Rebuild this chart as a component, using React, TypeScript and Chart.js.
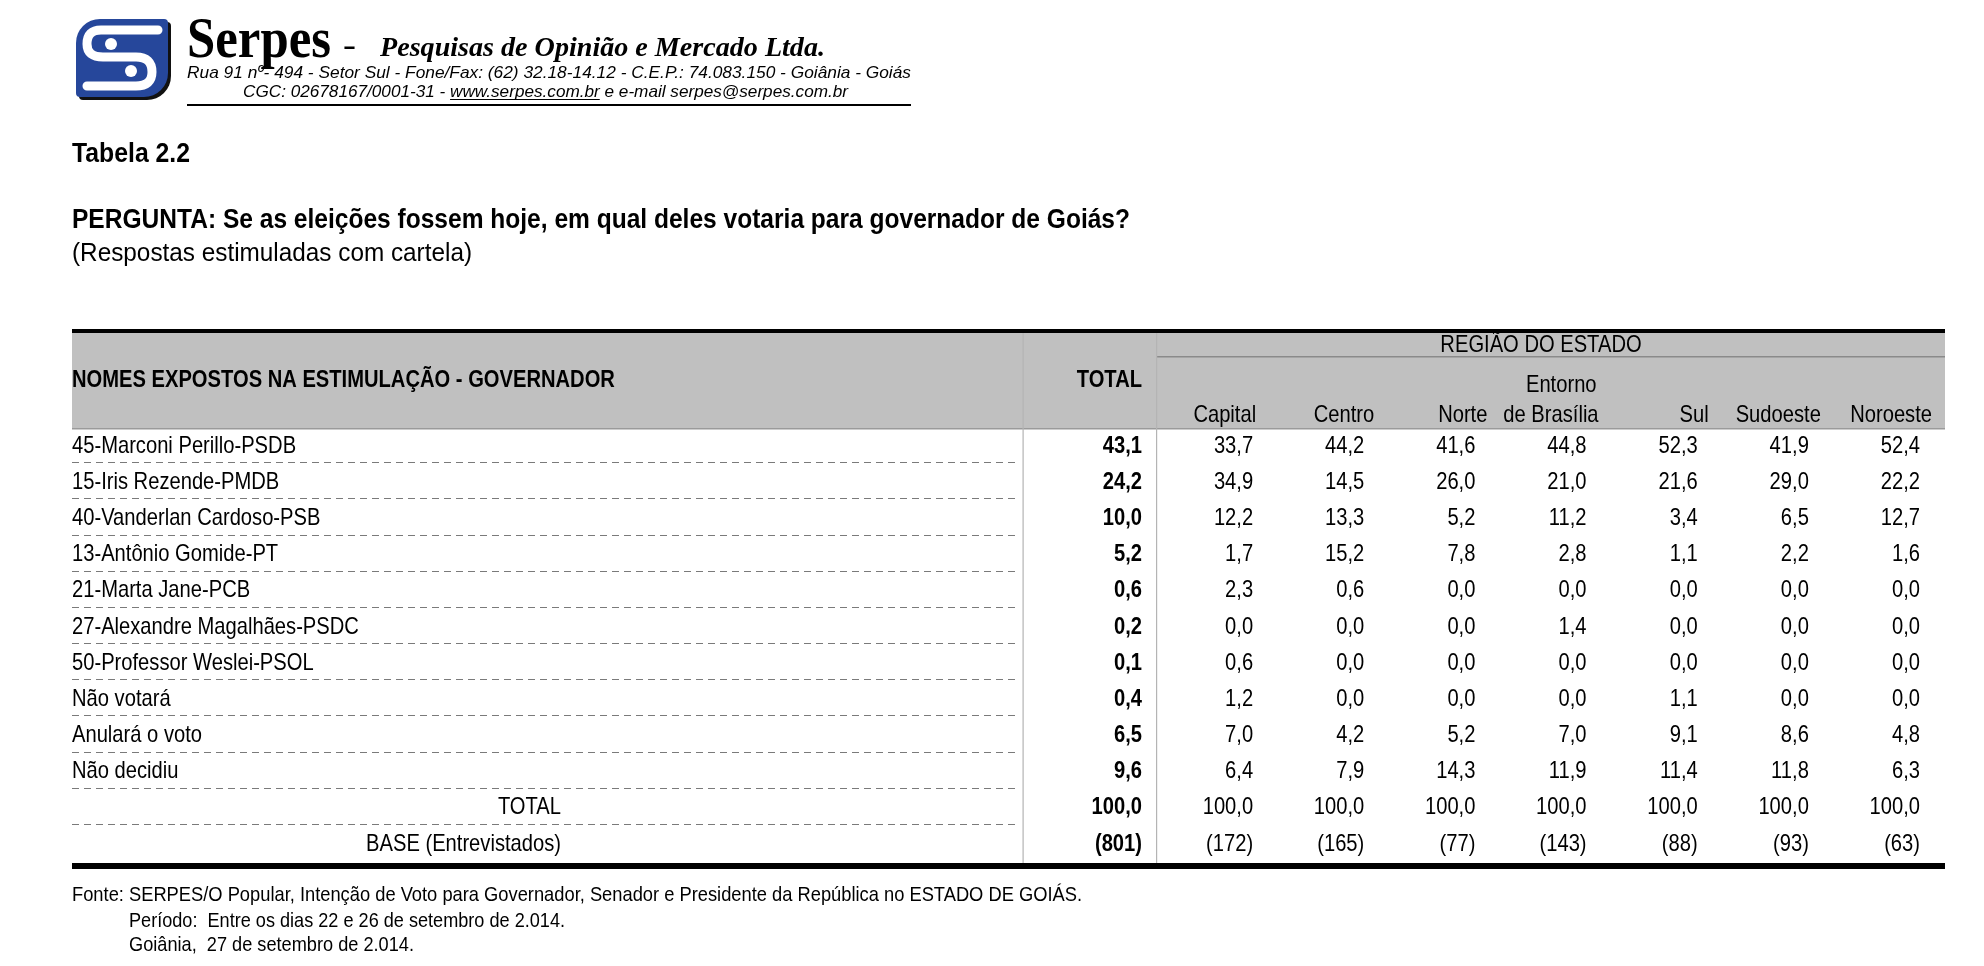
import React, { useEffect, useRef } from 'react';
import { Chart, registerables } from 'chart.js';

Chart.register(...registerables);

// ---------- DATA ----------
const RESPONSES = [
  '45-Marconi Perillo-PSDB',
  '15-Iris Rezende-PMDB',
  '40-Vanderlan Cardoso-PSB',
  '13-Antônio Gomide-PT',
  '21-Marta Jane-PCB',
  '27-Alexandre Magalhães-PSDC',
  '50-Professor Weslei-PSOL',
  'Não votará',
  'Anulará o voto',
  'Não decidiu',
];
const SUMMARY_ROWS = ['TOTAL', 'BASE (Entrevistados)'];
const ROW_LABELS = [...RESPONSES, ...SUMMARY_ROWS];

const COLUMNS = ['TOTAL', 'Capital', 'Centro', 'Norte', 'Entorno de Brasília', 'Sul', 'Sudoeste', 'Noroeste'];
const COLUMN_HEADER_LINES = [['TOTAL'], ['Capital'], ['Centro'], ['Norte'], ['Entorno', 'de Brasília'], ['Sul'], ['Sudoeste'], ['Noroeste']];

const TOTAL_COL = [43.1, 24.2, 10.0, 5.2, 0.6, 0.2, 0.1, 0.4, 6.5, 9.6];
const CAPITAL = [33.7, 34.9, 12.2, 1.7, 2.3, 0.0, 0.6, 1.2, 7.0, 6.4];
const CENTRO = [44.2, 14.5, 13.3, 15.2, 0.6, 0.0, 0.0, 0.0, 4.2, 7.9];
const NORTE = [41.6, 26.0, 5.2, 7.8, 0.0, 0.0, 0.0, 0.0, 5.2, 14.3];
const ENTORNO = [44.8, 21.0, 11.2, 2.8, 0.0, 1.4, 0.0, 0.0, 7.0, 11.9];
const SUL = [52.3, 21.6, 3.4, 1.1, 0.0, 0.0, 0.0, 1.1, 9.1, 11.4];
const SUDOESTE = [41.9, 29.0, 6.5, 2.2, 0.0, 0.0, 0.0, 0.0, 8.6, 11.8];
const NOROESTE = [52.4, 22.2, 12.7, 1.6, 0.0, 0.0, 0.0, 0.0, 4.8, 6.3];
const SERIES = [TOTAL_COL, CAPITAL, CENTRO, NORTE, ENTORNO, SUL, SUDOESTE, NOROESTE];

const COLUMN_TOTALS = [100.0, 100.0, 100.0, 100.0, 100.0, 100.0, 100.0, 100.0];
const BASE_COUNTS = [801, 172, 165, 77, 143, 88, 93, 63];

const TITLE_TABLE = 'Tabela 2.2';
const TITLE_QUESTION = 'PERGUNTA: Se as eleições fossem hoje, em qual deles votaria para governador de Goiás?';
const TITLE_NOTE = '(Respostas estimuladas com cartela)';
const HEAD_NAMES = 'NOMES EXPOSTOS NA ESTIMULAÇÃO - GOVERNADOR';
const HEAD_REGION = 'REGIÃO DO ESTADO';
const FOOTER = [
  'Fonte: SERPES/O Popular, Intenção de Voto para Governador, Senador e Presidente da República no ESTADO DE GOIÁS.',
  'Período:  Entre os dias 22 e 26 de setembro de 2.014.',
  'Goiânia,  27 de setembro de 2.014.',
];
const COMPANY = 'Serpes';
const COMPANY_SUB = 'Pesquisas de Opinião e Mercado Ltda.';
const ADDRESS = 'Rua 91 nº- 494 - Setor Sul - Fone/Fax: (62) 32.18-14.12 - C.E.P.: 74.083.150 - Goiânia - Goiás';
const CGC_A = 'CGC: 02678167/0001-31 - ';
const CGC_URL = 'www.serpes.com.br';
const CGC_B = ' e e-mail serpes@serpes.com.br';

// ---------- LAYOUT / STYLE ----------
const W = 1984;
const H = 966;
const SANS = '"Liberation Sans", Arial, Helvetica, sans-serif';
const SERIF = '"Liberation Serif", "Times New Roman", serif';
const BODY_SIZE = 24;
const NARROW = 0.84;
const TABLE_L = 72;
const TABLE_R = 1945;
const HEADER_SHIFT = [0, 3, 10, 12, 12, 11, 12, 12];

type TOpts = {
  size: number;
  weight?: string;
  style?: string;
  family?: string;
  align?: CanvasTextAlign;
  sx?: number;
  width?: number;
  color?: string;
};

function txt(ctx: CanvasRenderingContext2D, s: string, x: number, y: number, o: TOpts) {
  const { size, weight = 'normal', style = 'normal', family = SANS, align = 'left', sx = NARROW, width, color = '#000' } = o;
  ctx.save();
  ctx.font = `${style} ${weight} ${size}px ${family}`;
  ctx.textBaseline = 'alphabetic';
  ctx.fillStyle = color;
  let k = sx;
  if (width) k = width / ctx.measureText(s).width;
  ctx.translate(x, y);
  ctx.scale(k, 1);
  ctx.textAlign = align;
  ctx.fillText(s, 0, 0);
  ctx.restore();
  return k;
}

function fmt(v: number) {
  return v.toFixed(1).replace('.', ',');
}

function drawLogo(ctx: CanvasRenderingContext2D) {
  ctx.save();
  ctx.fillStyle = '#111';
  ctx.beginPath();
  (ctx as any).roundRect(79, 22, 92, 78, [24, 4, 24, 4]);
  ctx.fill();
  ctx.fillStyle = '#26479b';
  ctx.beginPath();
  (ctx as any).roundRect(76, 19, 92, 78, [24, 4, 24, 4]);
  ctx.fill();
  ctx.strokeStyle = '#fff';
  ctx.lineWidth = 9;
  ctx.lineCap = 'round';
  ctx.lineJoin = 'round';
  ctx.beginPath();
  ctx.moveTo(158, 30);
  ctx.lineTo(101, 30);
  ctx.quadraticCurveTo(87, 30, 87, 44);
  ctx.quadraticCurveTo(87, 57, 103, 57);
  ctx.lineTo(136, 57);
  ctx.quadraticCurveTo(152, 57, 152, 72);
  ctx.quadraticCurveTo(152, 86, 136, 86);
  ctx.lineTo(87, 86);
  ctx.stroke();
  ctx.fillStyle = '#fff';
  ctx.beginPath();
  ctx.arc(111, 44, 6, 0, Math.PI * 2);
  ctx.fill();
  ctx.beginPath();
  ctx.arc(131, 71, 6, 0, Math.PI * 2);
  ctx.fill();
  ctx.restore();
}

const tablePlugin = {
  id: 'tablePlugin',
  beforeDraw(chart: any) {
    const ctx: CanvasRenderingContext2D = chart.ctx;
    ctx.save();
    ctx.fillStyle = '#fff';
    ctx.fillRect(0, 0, W, H);
    ctx.fillStyle = '#c0c0c0';
    ctx.fillRect(TABLE_L, 333, TABLE_R - TABLE_L, 96);
    ctx.restore();
  },
  afterDatasetsDraw(chart: any) {
    const ctx: CanvasRenderingContext2D = chart.ctx;
    const xs = chart.scales.x;
    const ys = chart.scales.y;
    const band = ys.getPixelForValue(1) - ys.getPixelForValue(0);
    const capOff = BODY_SIZE * 0.716 / 2;

    // ----- letterhead -----
    drawLogo(ctx);
    txt(ctx, COMPANY, 187, 57, { size: 58, weight: 'bold', family: SERIF, width: 144 });
    txt(ctx, '-', 343, 55, { size: 30, weight: 'bold', family: SERIF, sx: 1.3 });
    txt(ctx, COMPANY_SUB, 380, 56, { size: 28, weight: 'bold', style: 'italic', family: SERIF, width: 445 });
    txt(ctx, ADDRESS, 187, 78, { size: 17, style: 'italic', width: 724 });
    const k = txt(ctx, CGC_A + CGC_URL + CGC_B, 243, 97, { size: 17, style: 'italic', width: 605 });
    ctx.save();
    ctx.font = `italic normal 17px ${SANS}`;
    const ua = ctx.measureText(CGC_A).width * k;
    const ub = ctx.measureText(CGC_URL).width * k;
    ctx.strokeStyle = '#000';
    ctx.lineWidth = 1;
    ctx.beginPath();
    ctx.moveTo(243 + ua, 99.5);
    ctx.lineTo(243 + ua + ub, 99.5);
    ctx.stroke();
    ctx.lineWidth = 2;
    ctx.beginPath();
    ctx.moveTo(187, 105);
    ctx.lineTo(911, 105);
    ctx.stroke();
    ctx.restore();

    // ----- titles -----
    txt(ctx, TITLE_TABLE, 72, 162, { size: 28, weight: 'bold', width: 118 });
    txt(ctx, TITLE_QUESTION, 72, 228, { size: 27, weight: 'bold', width: 1058 });
    txt(ctx, TITLE_NOTE, 72, 261, { size: 26, width: 400 });

    // ----- table rules -----
    ctx.save();
    ctx.fillStyle = '#000';
    ctx.fillRect(TABLE_L, 329, TABLE_R - TABLE_L, 4);
    ctx.fillRect(TABLE_L, 863, TABLE_R - TABLE_L, 6);
    ctx.fillStyle = '#9a9a9a';
    ctx.fillRect(TABLE_L, 428, TABLE_R - TABLE_L, 1.5);
    ctx.fillStyle = '#8a8a8a';
    ctx.fillRect(1156, 356, TABLE_R - 1156, 1.5);
    ctx.fillStyle = '#b4b4b4';
    ctx.fillRect(1022.5, 333, 1.2, 530);
    ctx.fillRect(1156, 333, 1.2, 530);
    ctx.strokeStyle = '#7a7a7a';
    ctx.lineWidth = 1;
    ctx.setLineDash([7, 5]);
    for (let i = 0; i < ROW_LABELS.length - 1; i++) {
      const y = Math.round(ys.getPixelForValue(i) + band / 2) + 0.5;
      ctx.beginPath();
      ctx.moveTo(TABLE_L, y);
      ctx.lineTo(1017, y);
      ctx.stroke();
    }
    ctx.restore();

    // ----- header texts -----
    txt(ctx, HEAD_NAMES, TABLE_L, 387, { size: BODY_SIZE, weight: 'bold' });
    txt(ctx, HEAD_REGION, 1541, 352, { size: BODY_SIZE, align: 'center' });
    COLUMN_HEADER_LINES.forEach((lines, c) => {
      const x = xs.getPixelForValue(c) + HEADER_SHIFT[c];
      if (c === 0) {
        txt(ctx, lines[0], x, 387, { size: BODY_SIZE, weight: 'bold', align: 'right' });
        return;
      }
      if (lines.length === 2) {
        txt(ctx, lines[0], x - 2, 392, { size: BODY_SIZE, align: 'right' });
        txt(ctx, lines[1], x, 422, { size: BODY_SIZE, align: 'right' });
      } else {
        txt(ctx, lines[0], x, 422, { size: BODY_SIZE, align: 'right' });
      }
    });

    // ----- row labels -----
    ROW_LABELS.forEach((label, i) => {
      const y = ys.getPixelForValue(i) + capOff;
      if (i < RESPONSES.length) {
        txt(ctx, label, TABLE_L, y, { size: BODY_SIZE });
      } else {
        txt(ctx, label, 561, y, { size: BODY_SIZE, align: 'right' });
      }
    });

    // ----- cells (points placed by the chart's scales) -----
    chart.data.datasets.forEach((ds: any, d: number) => {
      const meta = chart.getDatasetMeta(d);
      meta.data.forEach((el: any, i: number) => {
        const p = ds.data[i];
        const s = p.kind === 'base' ? `(${p.v})` : fmt(p.v);
        txt(ctx, s, el.x, el.y + capOff, { size: BODY_SIZE, weight: d === 0 ? 'bold' : 'normal', align: 'right' });
      });
    });

    // ----- footer -----
    txt(ctx, FOOTER[0], 72, 901, { size: 21, width: 1010 });
    txt(ctx, FOOTER[1], 129, 927, { size: 21, width: 436 });
    txt(ctx, FOOTER[2], 129, 951, { size: 21, width: 285 });
  },
};

export default function App() {
  const ref = useRef<HTMLCanvasElement>(null);
  useEffect(() => {
    document.body.style.margin = '0';
    const datasets = COLUMNS.map((col, c) => ({
      label: col,
      data: [
        ...RESPONSES.map((r, i) => ({ x: col, y: r, v: SERIES[c][i], kind: 'pct' })),
        { x: col, y: SUMMARY_ROWS[0], v: COLUMN_TOTALS[c], kind: 'pct' },
        { x: col, y: SUMMARY_ROWS[1], v: BASE_COUNTS[c], kind: 'base' },
      ],
      pointRadius: 0,
      pointHoverRadius: 0,
      showLine: false,
    }));
    const chart = new Chart(ref.current as HTMLCanvasElement, {
      type: 'scatter',
      data: { datasets } as any,
      options: {
        animation: false,
        responsive: false,
        devicePixelRatio: 1,
        events: [],
        layout: { padding: { left: 1142, right: 64, top: 426, bottom: 106 } },
        plugins: { legend: { display: false }, tooltip: { enabled: false }, title: { display: false } },
        scales: {
          x: { type: 'category', labels: COLUMNS, offset: false, display: false },
          y: { type: 'category', labels: ROW_LABELS, offset: true, display: false },
        },
      } as any,
      plugins: [tablePlugin],
    });
    return () => chart.destroy();
  }, []);
  return (
    <div style={{ width: W, height: H, background: '#fff' }}>
      <canvas ref={ref} width={W} height={H} style={{ display: 'block', width: W, height: H }} />
    </div>
  );
}
